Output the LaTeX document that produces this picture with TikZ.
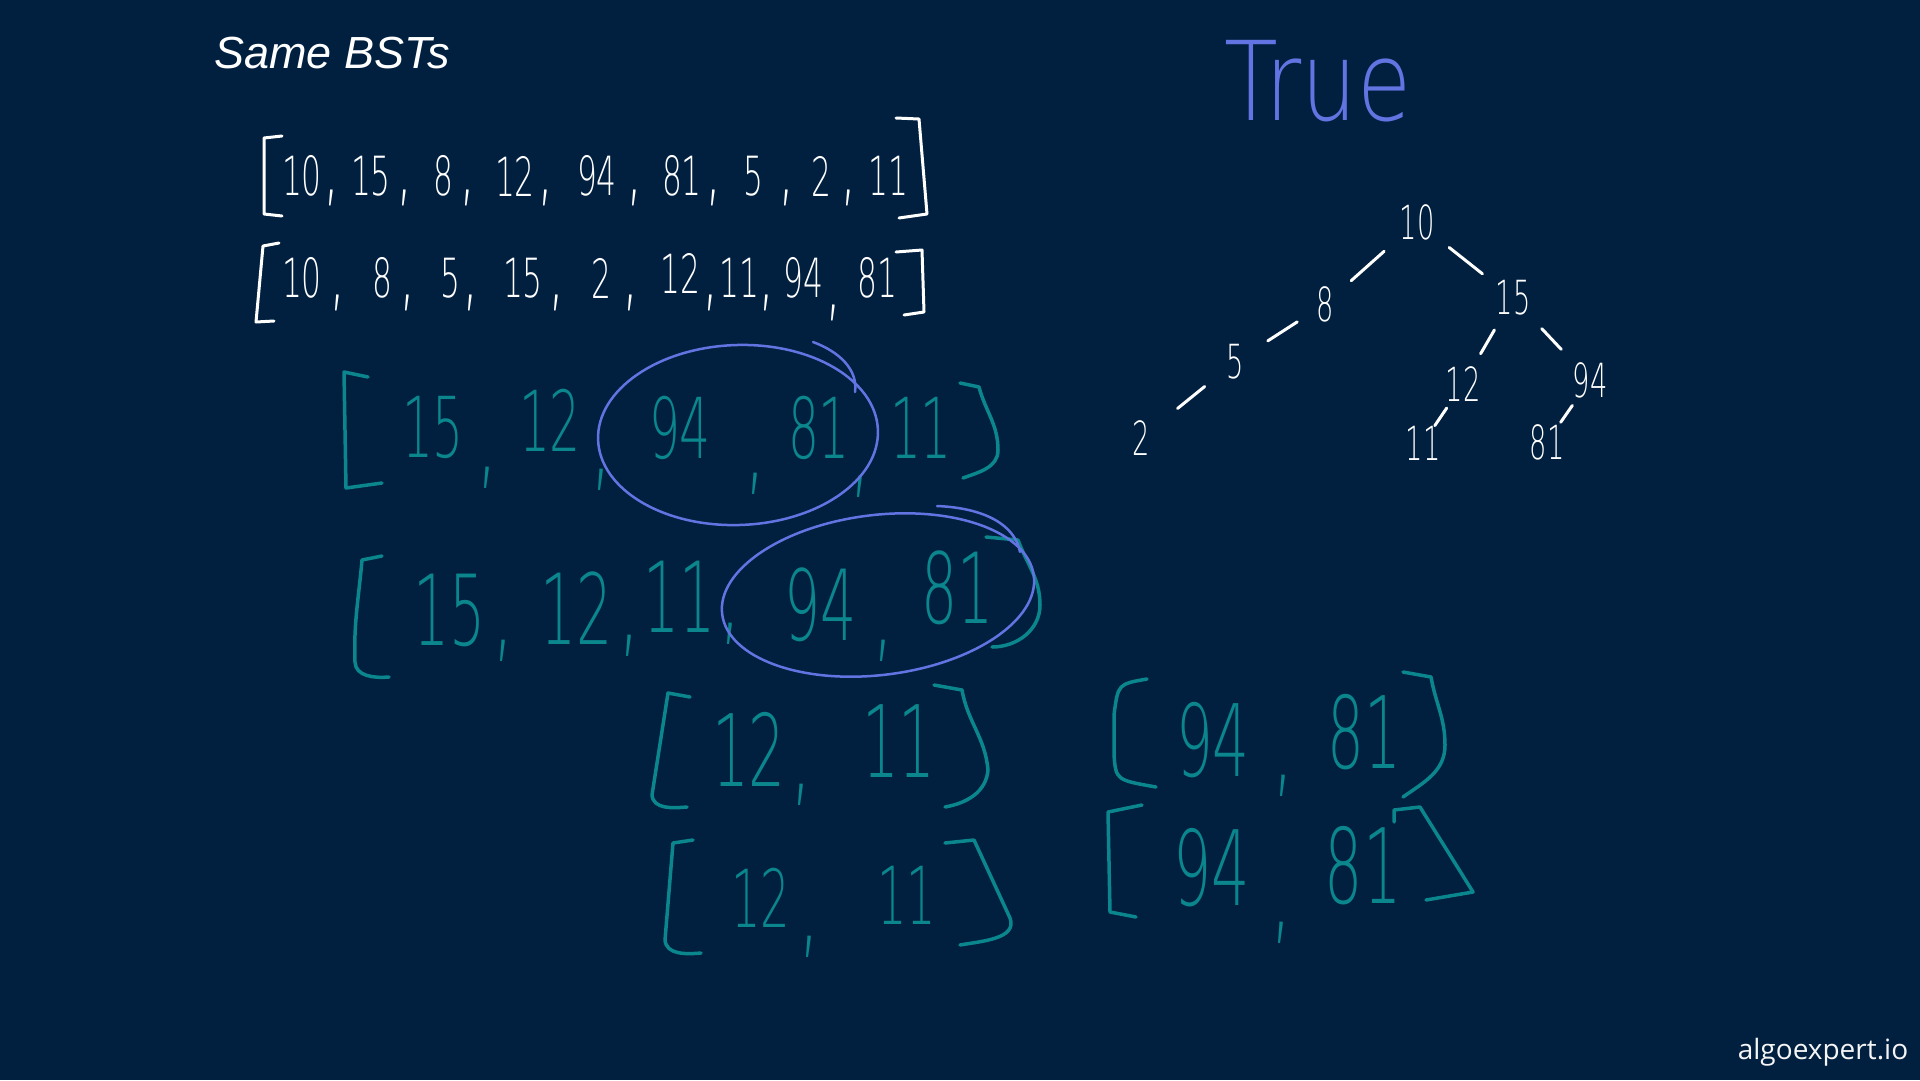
\documentclass[tikz,border=0pt]{standalone}
\usepackage{fontspec}
\usetikzlibrary{calc}
\newfontfamily\hand{DejaVu Sans ExtraLight}[FakeStretch=0.58]
\newfontfamily\handw{DejaVu Sans ExtraLight}[FakeStretch=0.8]
\newfontfamily\titlefont{Liberation Sans}
\newfontfamily\logofont{Open Sans}
\definecolor{bg}{RGB}{1,31,63}
\definecolor{tealc}{RGB}{10,134,140}
\definecolor{bluec}{RGB}{98,116,226}
\tikzset{
  wnum/.style={text=white, font=\hand\fontsize{54}{54}\selectfont, inner sep=0pt},
  wcom/.style={text=white, font=\hand\fontsize{90}{90}\selectfont, inner sep=0pt},
  tnum/.style={text=tealc, font=\hand\fontsize{#1}{#1}\selectfont, inner sep=0pt},
  tcom/.style={text=tealc, font=\hand\fontsize{120}{120}\selectfont, inner sep=0pt},
  trnum/.style={text=white, font=\hand\fontsize{47}{47}\selectfont, inner sep=0pt},
  wbr/.style={draw=white, line width=3pt, line cap=round, line join=round},
  tbr/.style={draw=tealc, line width=3.5pt, line cap=round, line join=round},
  loopline/.style={draw=bluec, line width=2.5pt, line cap=round},
  tedge/.style={draw=white, line width=3pt, line cap=round}
}
\begin{document}
\begin{tikzpicture}[x=1pt,y=-1pt]
\fill[bg] (0,0) rectangle (1920,1080);
\useasboundingbox (0,0) rectangle (1920,1080);

% title and logo
\node[font=\titlefont\itshape\fontsize{45}{45}\selectfont, text=white, inner sep=0pt] (title) at (332,53) {Same BSTs};
\node[font=\logofont\fontsize{28}{28}\selectfont, text=white!92!gray, inner sep=0pt] (logo) at (1823,1052) {algoexpert.io};
\node[font=\handw\fontsize{110}{110}\selectfont, text=bluec, inner sep=0pt] (true) at (1318,81) {True};

% ---------- row 1 (white)
\draw[wbr] (282,136) -- (264,138) -- (264,214) -- (282,216);
\draw[wbr] (896,118) -- (919,119) -- (927,214) -- (899,218);
\node[wnum] (r1a) at (302,176) {10};
\node[wcom] (r1ca) at (332,198) {,};
\node[wnum] (r1b) at (371,176) {15};
\node[wcom] (r1cb) at (405,198) {,};
\node[wnum] (r1c) at (443,176) {8};
\node[wcom] (r1cc) at (468,198) {,};
\node[wnum] (r1d) at (515,176) {12};
\node[wcom] (r1cd) at (546,198) {,};
\node[wnum] (r1e) at (597,176) {94};
\node[wcom] (r1ce) at (635,198) {,};
\node[wnum] (r1f) at (682,176) {81};
\node[wcom] (r1cf) at (714,198) {,};
\node[wnum] (r1g) at (753,176) {5};
\node[wcom] (r1cg) at (787,198) {,};
\node[wnum] (r1h) at (821,176) {2};
\node[wcom] (r1ch) at (849,198) {,};
\node[wnum] (r1i) at (888,176) {11};

% ---------- row 2 (white)
\draw[wbr] (279,243) -- (263,246) -- (256,322) -- (274,321);
\draw[wbr] (896,252) -- (922,250) -- (924,312) -- (904,315);
\node[wnum] (r2a) at (302,278) {10};
\node[wcom] (r2ca) at (338,303) {,};
\node[wnum] (r2b) at (382,278) {8};
\node[wcom] (r2cb) at (408,303) {,};
\node[wnum] (r2c) at (450,278) {5};
\node[wcom] (r2cc) at (471,303) {,};
\node[wnum] (r2d) at (523,278) {15};
\node[wcom] (r2cd) at (557,303) {,};
\node[wnum] (r2e) at (601,278) {2};
\node[wcom] (r2ce) at (631,303) {,};
\node[wnum] (r2f) at (680,273) {12};
\node[wcom] (r2cf) at (711,303) {,};
\node[wnum] (r2g) at (739,278) {11};
\node[wcom] (r2cg) at (767,303) {,};
\node[wnum] (r2h) at (803,278) {94};
\node[wcom] (r2ch) at (834,313) {,};
\node[wnum] (r2i) at (877,278) {81};

% ---------- teal row A
\draw[tbr] (368,377) -- (344,372) -- (346,488) -- (382,483);
\draw[tbr] (960,383) -- (979,387) to[out=-75,in=90] (998,450) to[out=-90,in=20] (963,478);
\node[tnum=84] (ta1) at (433,427) {15};
\node[tcom] (tac1) at (488,478) {,};
\node[tnum=84] (ta2) at (550,420) {12};
\node[tcom] (tac2) at (602,480) {,};
\node[tnum=84] (ta3) at (680,428) {94};
\node[tcom] (tac3) at (756,484) {,};
\node[tnum=84] (ta4) at (819,428) {81};
\node[tcom] (tac4) at (861,487) {,};
\node[tnum=84] (ta5) at (921,428) {11};
\draw[loopline, rotate around={2:(738,435)}] (738,435) ellipse [x radius=140, y radius=90];
\draw[loopline] (813,342) .. controls (840,352) and (858,370) .. (855,392);

% ---------- teal row B
\draw[tbr] (382,556) -- (362,560) to[out=-95,in=92] (355,662) to[out=-88,in=185] (389,677);
\draw[tbr] (986,537) -- (1018,540) to[out=-70,in=90] (1040,605) to[out=-90,in=0] (992,647);
\node[tnum=98] (tb1) at (450,610) {15};
\node[tcom] (tbc1) at (504,651) {,};
\node[tnum=98] (tb2) at (577,608) {12};
\node[tcom] (tbc2) at (630,646) {,};
\node[tnum=98] (tb3) at (680,597) {11};
\node[tcom] (tbc3) at (731,634) {,};
\node[tnum=98] (tb4) at (821,605) {94};
\node[tcom] (tbc4) at (884,651) {,};
\node[tnum=98] (tb5) at (958,588) {81};
\draw[loopline, rotate around={7:(878,595)}] (878,595) ellipse [x radius=157, y radius=80];
\draw[loopline] (937,506) .. controls (985,508) and (1015,525) .. (1020,552);

% ---------- teal row C
\draw[tbr] (690,697) -- (668,693) -- (652,795) to[out=-85,in=185] (687,807);
\draw[tbr] (934,685) -- (962,690) to[out=-80,in=95] (988,770) to[out=-95,in=10] (945,807);
\node[tnum=100] (tc1) at (749,749) {12};
\node[tcom] (tcc1) at (802,795) {,};
\node[tnum=100] (tc2) at (899,741) {11};

% ---------- teal row D
\draw[tbr] (693,840) -- (673,843) -- (665,940) to[out=-85,in=185] (701,953);
\draw[tbr] (945,843) -- (974,840) -- (1010,918) to[out=-70,in=10] (960,945);
\node[tnum=80] (td1) at (761,898) {12};
\node[tcom] (tdc1) at (810,947) {,};
\node[tnum=80] (td2) at (907,895) {11};

% ---------- teal row E
\draw[tbr] (1147,679) .. controls (1118,684) .. (1114,715) -- (1114,755) .. controls (1116,780) .. (1156,787);
\draw[tbr] (1403,672) -- (1431,677) to[out=-80,in=90] (1445,745) to[out=-90,in=35] (1403,797);
\node[tnum=100] (te1) at (1213,740) {94};
\node[tcom] (tec1) at (1284,786) {,};
\node[tnum=100] (te2) at (1364,732) {81};

% ---------- teal row F
\draw[tbr] (1142,805) -- (1108,812) -- (1110,912) -- (1136,917);
\draw[tbr] (1394,822) -- (1394,810) -- (1420,807) -- (1473,892) -- (1426,900);
\node[tnum=104] (tf1) at (1212,868) {94};
\node[tcom] (tfc1) at (1282,933) {,};
\node[tnum=104] (tf2) at (1363,866) {81};

% ---------- tree
\node[trnum] (t10) at (1417,222) {10};
\node[trnum] (t8)  at (1325,304) {8};
\node[trnum] (t15) at (1513,298) {15};
\node[trnum] (t5)  at (1235,362) {5};
\node[trnum] (t12) at (1463,384) {12};
\node[trnum] (t94) at (1590,380) {94};
\node[trnum] (t2)  at (1141,438) {2};
\node[trnum] (t11) at (1423,443) {11};
\node[trnum] (t81) at (1547,442) {81};
\draw[tedge] ($(t10)!44pt!(t8)$) -- ($(t8)!35pt!(t10)$);
\draw[tedge] ($(t10)!41pt!(t15)$) -- ($(t15)!39pt!(t10)$);
\draw[tedge] ($(t8)!33pt!(t5)$) -- ($(t5)!39pt!(t8)$);
\draw[tedge] ($(t5)!39pt!(t2)$) -- ($(t2)!47pt!(t5)$);
\draw[tedge] ($(t15)!37pt!(t12)$) -- ($(t12)!35pt!(t15)$);
\draw[tedge] ($(t15)!42pt!(t94)$) -- ($(t94)!42pt!(t15)$);
\draw[tedge] ($(t12)!29pt!(t11)$) -- ($(t11)!21pt!(t12)$);
\draw[tedge] ($(t94)!31pt!(t81)$) -- ($(t81)!24pt!(t94)$);
\end{tikzpicture}
\end{document}
